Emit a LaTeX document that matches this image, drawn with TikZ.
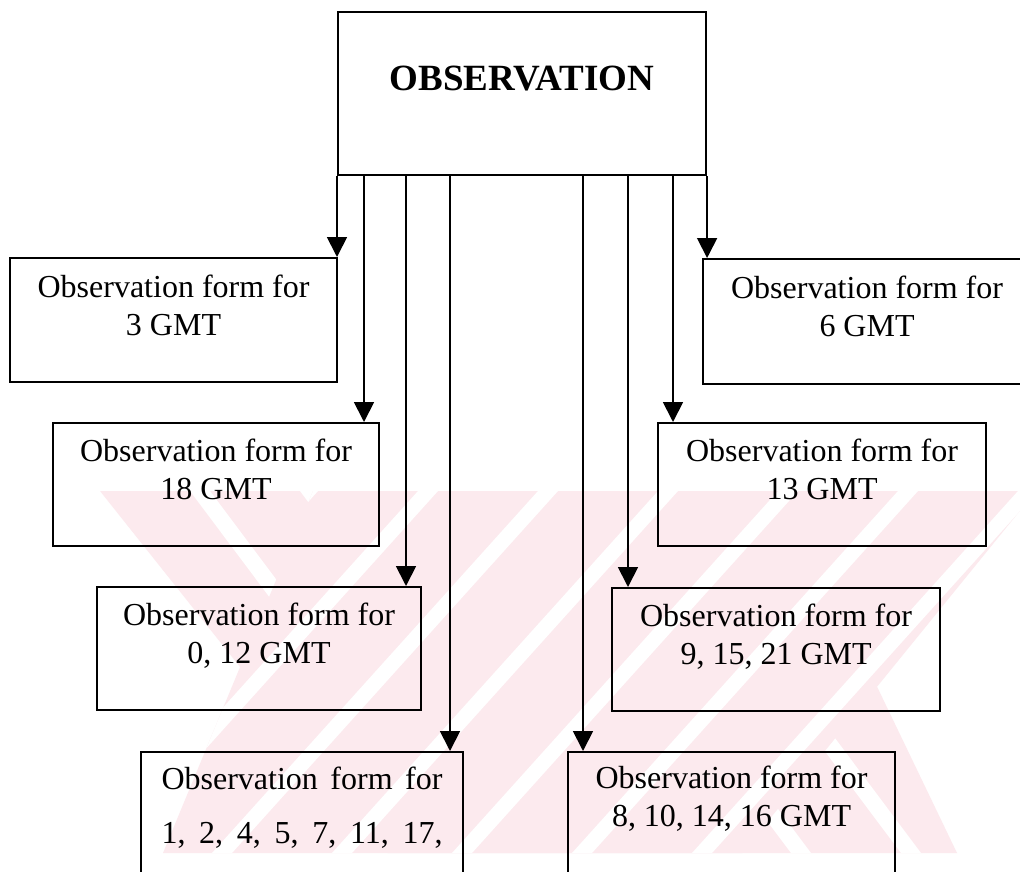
\documentclass[tikz,border=0pt]{standalone}
\usepackage{fontspec}
\setmainfont{Liberation Serif}
\usetikzlibrary{arrows.meta}
\definecolor{wmpink}{RGB}{252,234,238}
\begin{document}
\begin{tikzpicture}[x=1pt,y=-1pt,
  formbox/.style={draw=black, line width=2.1pt, anchor=north west, inner sep=0pt},
  formtext/.style={anchor=north, align=center, inner sep=0pt, font=\fontsize{32}{38.5}\selectfont},
  arr/.style={line width=1.8pt, -{Triangle[length=20pt,width=20pt]}}]
\clip (0,0) rectangle (1020,871);
\fill[white] (0,0) rectangle (1020,871);

% faint striped background mark
\begin{scope}
  \clip (100,491) rectangle (1020,853);
  \begin{scope}
    \clip (100,491) -- (783,491) -- (957,853) -- (388,853) -- cycle;
    \fill[wmpink] (0,400) rectangle (1100,900);
    \foreach \xt in {80,190,300,410,520,630,740,850}
      \fill[white] (\xt,491) -- ++(20,0) -- ++(271,362) -- ++(-20,0) -- cycle;
  \end{scope}
  \begin{scope}
    \clip (313,491) -- (1036,491) -- (742,853) -- (163,853) -- cycle;
    \fill[wmpink] (0,400) rectangle (1100,900);
    \foreach \xt in {298,418,538,658,778,898,1018}
      \fill[white] (\xt,491) -- ++(20,0) -- ++(-326,362) -- ++(-20,0) -- cycle;
  \end{scope}
\end{scope}

% main box
\node[formbox, minimum width=368, minimum height=163] (obs) at (337,11) {};
\node[anchor=base, inner sep=0pt, font=\bfseries\fontsize{37}{44}\selectfont] (obstitle) at ([yshift=-79pt]obs.north) {OBSERVATION};

% form boxes
\node[formbox, minimum width=327, minimum height=124] (b3) at (9,257) {};
\node[formbox, minimum width=328, minimum height=125] (b6) at (702,258) {};
\node[formbox, minimum width=326, minimum height=123] (b18) at (52,422) {};
\node[formbox, minimum width=328, minimum height=123] (b13) at (657,422) {};
\node[formbox, minimum width=324, minimum height=123] (b012) at (96,586) {};
\node[formbox, minimum width=328, minimum height=123] (b91521) at (611,587) {};
\node[formbox, minimum width=322, minimum height=200] (b1) at (140,751) {};
\node[formbox, minimum width=327, minimum height=200] (b8) at (567,751) {};

% box texts
\node[formtext] (t3) at ([yshift=-13pt]b3.north) {\strut Observation form for\\3 GMT};
\node[formtext] (t6) at ([yshift=-13pt]b6.north) {\strut Observation form for\\6 GMT};
\node[formtext] (t18) at ([yshift=-12pt]b18.north) {\strut Observation form for\\18 GMT};
\node[formtext] (t13) at ([yshift=-12pt]b13.north) {\strut Observation form for\\13 GMT};
\node[formtext] (t012) at ([yshift=-12pt]b012.north) {\strut Observation form for\\0, 12 GMT};
\node[formtext] (t91521) at ([yshift=-12pt]b91521.north) {\strut Observation form for\\9, 15, 21 GMT};
\node[formtext, font=\fontsize{32}{54}\selectfont] (t1) at (b1.north)
  {\strut\makebox[281pt][s]{Observation form for}\\\makebox[281pt][s]{1, 2, 4, 5, 7, 11, 17,}};
\node[formtext] (t8) at ([yshift=-10pt]b8.north) {\strut Observation form for\\8, 10, 14, 16 GMT};

% arrow start points along the bottom of the main box
\coordinate (o1) at (obs.south west);
\coordinate (o2) at ([xshift=27pt]obs.south west);
\coordinate (o3) at ([xshift=69pt]obs.south west);
\coordinate (o4) at ([xshift=113pt]obs.south west);
\coordinate (o5) at ([xshift=246pt]obs.south west);
\coordinate (o6) at ([xshift=291pt]obs.south west);
\coordinate (o7) at ([xshift=336pt]obs.south west);
\coordinate (o8) at (obs.south east);

\draw[arr] (o1) -- (o1 |- b3.north);
\draw[arr] (o2) -- (o2 |- b18.north);
\draw[arr] (o3) -- (o3 |- b012.north);
\draw[arr] (o4) -- (o4 |- b1.north);
\draw[arr] (o5) -- (o5 |- b8.north);
\draw[arr] (o6) -- (o6 |- b91521.north);
\draw[arr] (o7) -- (o7 |- b13.north);
\draw[arr] (o8) -- (o8 |- b6.north);
\end{tikzpicture}
\end{document}
